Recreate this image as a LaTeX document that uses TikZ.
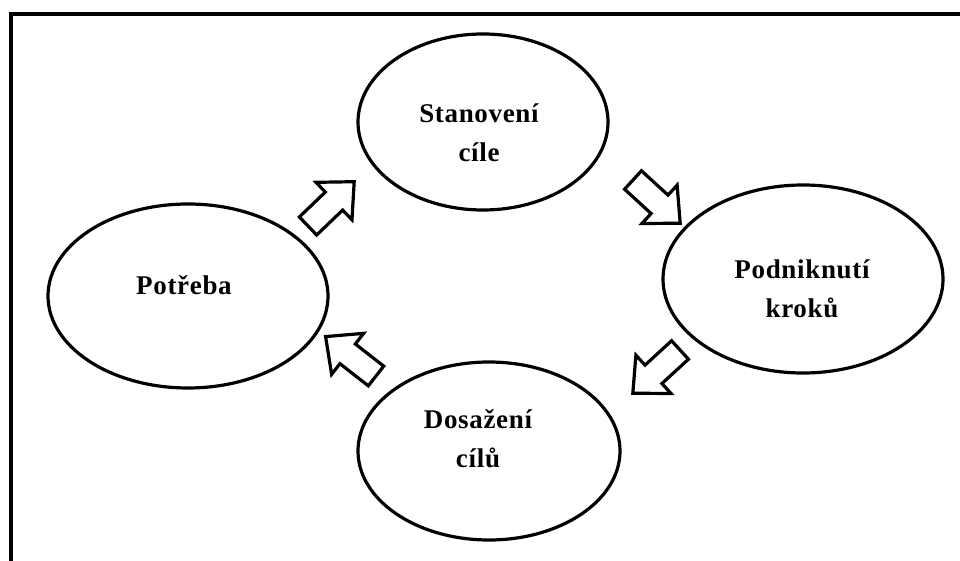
\documentclass[tikz,border=0pt]{standalone}
\usepackage{fontspec}
\setmainfont{Liberation Serif}[LetterSpace=2.5]
\usetikzlibrary{shapes.geometric}
\tikzset{
  oval/.style={ellipse, draw=black, line width=3.2pt, inner sep=0pt, fill=white},
  lbl/.style={align=center, font=\bfseries\fontsize{27}{39}\selectfont, inner sep=0pt},
  arrline/.style={draw=black, line width=3.2pt, line join=miter, fill=white},
  blockarr/.pic={\path[arrline] (0,-12.5) -- (36,-12.5) -- (36,-26) -- (64,0) -- (36,26) -- (36,12.5) -- (0,12.5) -- cycle;}
}
\begin{document}
\begin{tikzpicture}[x=1pt,y=1pt]
\useasboundingbox (0,0) rectangle (960,560);
\fill[white] (0,0) rectangle (960,560);
% border (top and left only visible)
\coordinate (bl) at (11,-5);
\coordinate (tl) at (11,546);
\coordinate (tr) at (965,546);
\draw[line width=4pt] (bl) -- (tl) -- (tr);
% ellipses
\node[oval, minimum width=280pt, minimum height=184pt] (need) at (188,264) {};
\node[oval, minimum width=250pt, minimum height=176pt] (goal) at (483,438) {};
\node[oval, minimum width=280pt, minimum height=188pt] (steps) at (803,281) {};
\node[oval, minimum width=262pt, minimum height=178pt] (reach) at (489,109) {};
% labels
\node[lbl] (needt) at (184,275) {Potřeba};
\node[lbl] (goalt) at (479,427) {Stanovení\\cíle};
\node[lbl] (stepst) at (802,271) {Podniknutí\\kroků};
\node[lbl] (reacht) at (478,121) {Dosažení\\cílů};
% block arrows
\pic[rotate=43.8] at (308,334) {blockarr};
\pic[rotate=-42.5] at (633,380) {blockarr};
\pic[rotate=222.5] at (680,210) {blockarr};
\pic[rotate=142] at (376,184) {blockarr};
\end{tikzpicture}
\end{document}
